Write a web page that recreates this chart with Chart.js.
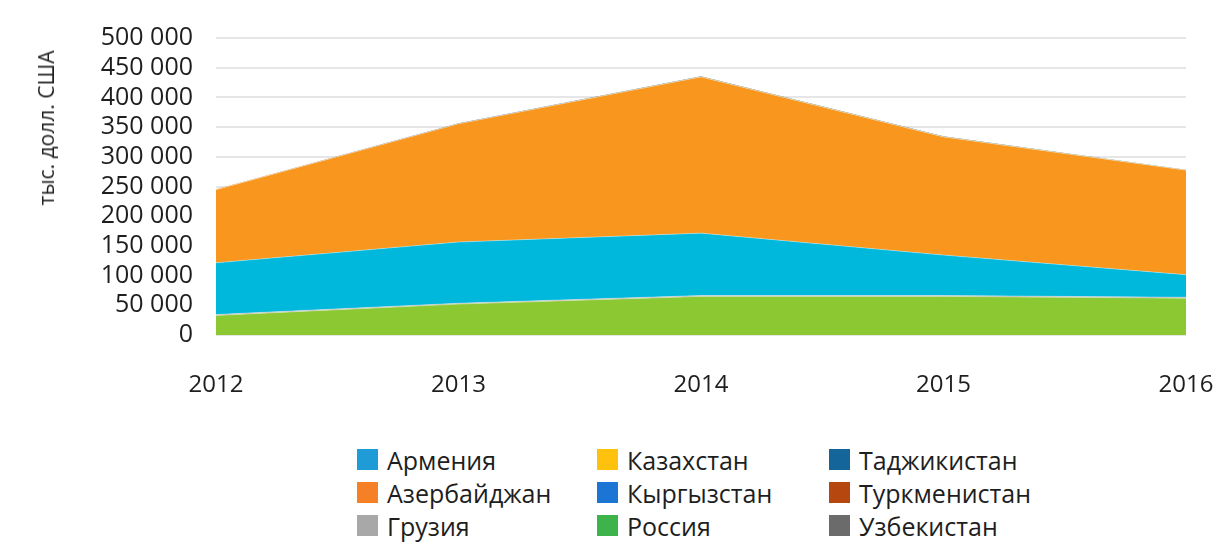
<!DOCTYPE html>
<html lang="ru">
<head>
    <meta charset="UTF-8">
    <title>Stacked area chart</title>
    <script src="https://cdn.jsdelivr.net/npm/chart.js"></script>
    <style>
        body { margin: 0; background: #fff; font-family: "Open Sans", sans-serif; color: #1e1e1e; }
        .wrap { position: relative; width: 1215px; height: 545px; }
        #areaChart { position: absolute; left: 0; top: 0; }
        .yTitle {
            position: absolute; left: 46px; top: 128px;
            transform: translate(-50%, -50%) rotate(-90deg);
            font-size: 21px; white-space: nowrap;
        }
        #legend {
            position: absolute; left: 357px; top: 443px;
            display: grid; grid-template-columns: 240px 232px auto;
            grid-auto-flow: column; grid-template-rows: repeat(3, 33px);
            font-size: 25px;
        }
        #legend div { display: flex; align-items: center; }
        #legend span.box { width: 21px; height: 21px; margin-right: 9px; display: inline-block; }
    </style>
</head>
<body>
<div class="wrap">
    <canvas id="areaChart" width="1215" height="420"></canvas>
    <div class="yTitle">тыс. долл. США</div>
    <div id="legend"></div>
</div>
<script>
    // years on the x axis
    var years = ['2012', '2013', '2014', '2015', '2016'];

    // values, thousand USD
    var russia     = [33000, 52000, 65000, 65000, 62000];
    var georgia    = [1500, 1500, 1500, 1500, 1500];
    var armenia    = [87000, 103000, 105000, 68000, 38000];
    var azerbaijan = [123000, 199000, 263000, 199000, 176000];
    var kazakhstan = [300, 300, 300, 300, 300];
    var kyrgyzstan = [100, 100, 100, 100, 100];
    var tajikistan = [100, 100, 100, 100, 100];
    var turkmenistan = [200, 200, 200, 200, 200];
    var uzbekistan = [200, 200, 200, 200, 200];

    var yMax = 500000;
    var yStep = 50000;

    // stacking order from bottom up
    var series = [
        { label: 'Россия', data: russia, fill: '#8bc832', legend: '#3cb44b' },
        { label: 'Грузия', data: georgia, fill: '#a8a8a8', legend: '#a8a8a8' },
        { label: 'Армения', data: armenia, fill: '#00b7dc', legend: '#1f9bd8' },
        { label: 'Азербайджан', data: azerbaijan, fill: '#f8961d', legend: '#f58025' },
        { label: 'Казахстан', data: kazakhstan, fill: '#fdc10e', legend: '#fdc10e' },
        { label: 'Кыргызстан', data: kyrgyzstan, fill: '#1c74d4', legend: '#1c74d4' },
        { label: 'Таджикистан', data: tajikistan, fill: '#13659a', legend: '#13659a' },
        { label: 'Туркменистан', data: turkmenistan, fill: '#b6470e', legend: '#b6470e' },
        { label: 'Узбекистан', data: uzbekistan, fill: '#6b6b6b', legend: '#6b6b6b' }
    ];

    // legend order as in the picture (column by column)
    var legendOrder = ['Армения', 'Азербайджан', 'Грузия', 'Казахстан', 'Кыргызстан',
        'Россия', 'Таджикистан', 'Туркменистан', 'Узбекистан'];

    var datasets = series.map(function (s, i) {
        return {
            label: s.label,
            data: s.data,
            backgroundColor: s.fill,
            borderColor: 'rgba(255,255,255,0.35)',
            borderWidth: i < 4 ? 1 : 0,
            pointRadius: 0,
            tension: 0,
            fill: i === 0 ? 'origin' : '-1'
        };
    });

    function fmt(v) {
        return String(v).replace(/\B(?=(\d{3})+(?!\d))/g, ' ');
    }

    new Chart(document.getElementById('areaChart').getContext('2d'), {
        type: 'line',
        data: { labels: years, datasets: datasets },
        options: {
            responsive: false,
            animation: false,
            layout: { padding: { top: 31, right: 0, left: 0, bottom: 0 } },
            plugins: { legend: { display: false }, tooltip: { enabled: false } },
            scales: {
                x: {
                    offset: false,
                    grid: { display: false, drawTicks: false },
                    border: { display: false },
                    ticks: { color: '#1e1e1e', font: { family: 'Open Sans', size: 24 }, padding: 36, maxRotation: 0 },
                    afterFit: function (scale) {
                        scale.height = 85;
                        // only half of the last label sticks out on the right
                        scale.paddingRight = 29;
                        scale.paddingLeft = 0;
                    }
                },
                y: {
                    stacked: true,
                    min: 0, max: yMax,
                    grid: { color: '#e6e6e6', lineWidth: 2, drawTicks: false },
                    border: { display: false },
                    ticks: {
                        stepSize: yStep, autoSkip: false, color: '#1e1e1e', padding: 23,
                        font: { family: 'Open Sans', size: 25 },
                        callback: function (v) { return fmt(v); }
                    },
                    afterFit: function (scale) { scale.width = 216; }
                }
            }
        }
    });

    // HTML legend laid out in three columns
    var legendEl = document.getElementById('legend');
    legendOrder.forEach(function (name) {
        var s = series.find(function (d) { return d.label === name; });
        var item = document.createElement('div');
        item.innerHTML = '<span class="box" style="background:' + s.legend + '"></span>' + s.label;
        legendEl.appendChild(item);
    });
</script>
</body>
</html>
